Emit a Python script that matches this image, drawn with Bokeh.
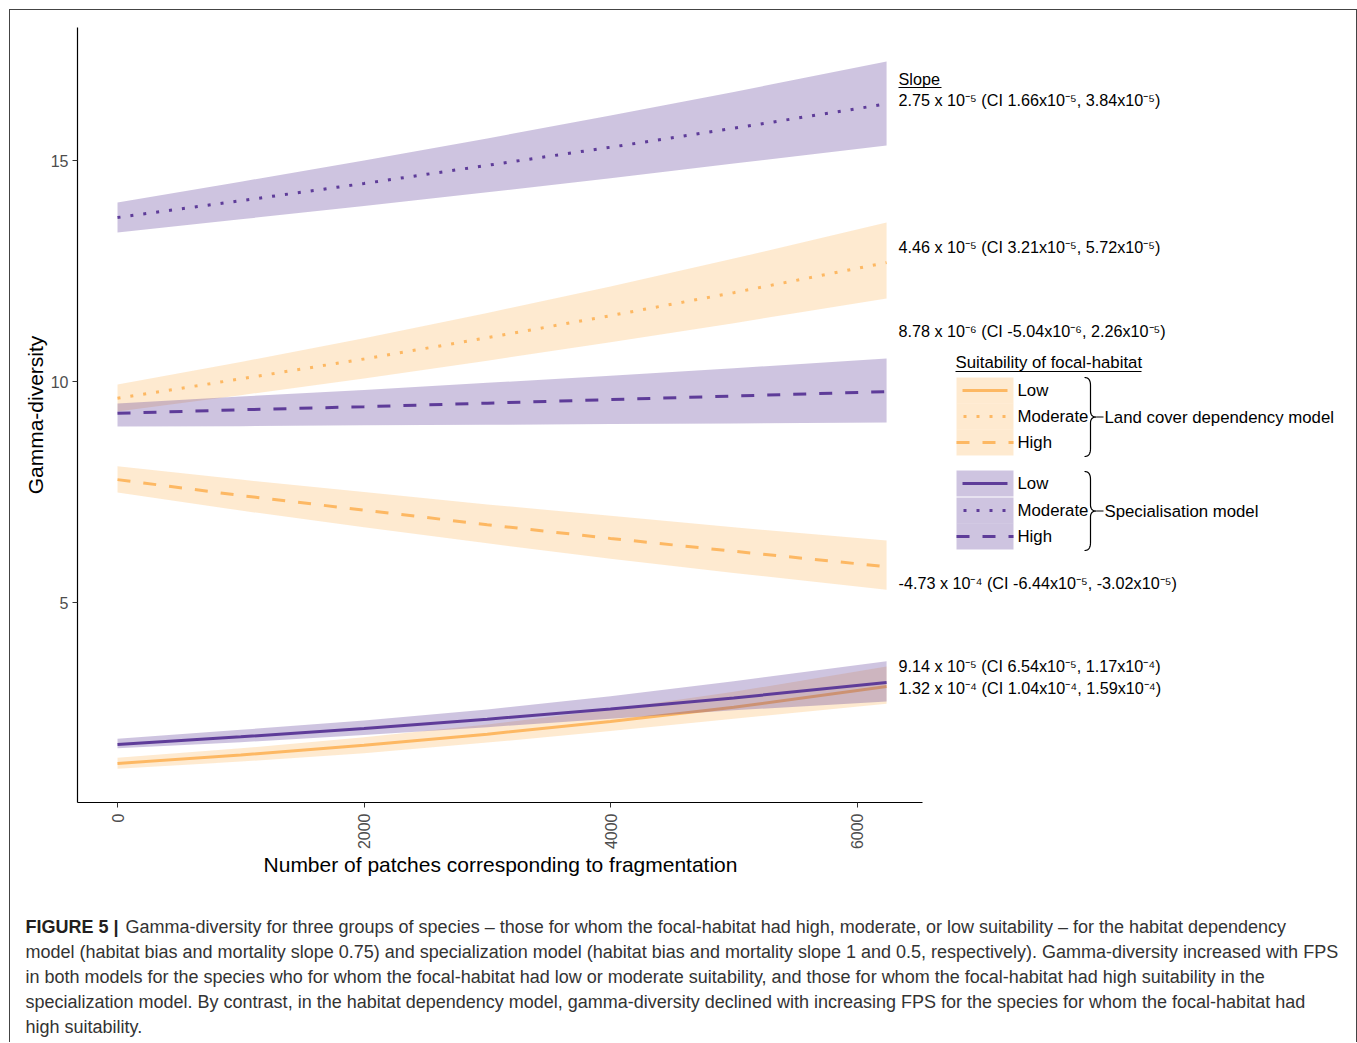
import math
import numpy as np
from bokeh.plotting import figure
from bokeh.models import Range1d, FixedTicker, Label
from bokeh.layouts import column
from bokeh.embed import file_html
from bokeh.resources import INLINE

# ---------------- data ----------------
fps = [0, 1000, 2000, 3000, 4000, 5000, 6240]

lc_low = [1.36, 1.55, 1.77, 2.02, 2.31, 2.63, 3.10]
lc_low_lo = [1.24, 1.40, 1.59, 1.83, 2.09, 2.37, 2.71]
lc_low_hi = [1.49, 1.70, 1.95, 2.24, 2.58, 2.98, 3.55]

lc_mod = [9.62, 10.06, 10.51, 10.99, 11.49, 12.01, 12.69]
lc_mod_lo = [9.32, 9.69, 10.07, 10.47, 10.89, 11.32, 11.88]
lc_mod_hi = [9.93, 10.44, 10.98, 11.55, 12.15, 12.78, 13.60]

lc_high = [7.78, 7.42, 7.09, 6.76, 6.45, 6.16, 5.81]
lc_high_lo = [7.49, 7.08, 6.70, 6.34, 5.99, 5.67, 5.29]
lc_high_hi = [8.08, 7.78, 7.50, 7.22, 6.96, 6.70, 6.40]

sp_low = [1.79, 1.96, 2.15, 2.36, 2.59, 2.84, 3.19]
sp_low_lo = [1.70, 1.84, 2.00, 2.18, 2.37, 2.56, 2.76]
sp_low_hi = [1.92, 2.12, 2.33, 2.58, 2.88, 3.22, 3.67]

sp_mod = [13.71, 14.09, 14.48, 14.89, 15.30, 15.73, 16.28]
sp_mod_lo = [13.37, 13.67, 13.97, 14.28, 14.60, 14.93, 15.34]
sp_mod_hi = [14.05, 14.52, 15.00, 15.50, 16.02, 16.55, 17.24]

sp_high = [9.28, 9.36, 9.43, 9.51, 9.59, 9.67, 9.77]
sp_high_lo = [8.98, 8.99, 9.01, 9.02, 9.04, 9.05, 9.07]
sp_high_hi = [9.50, 9.66, 9.81, 9.97, 10.13, 10.30, 10.52]

x_ticks = [0, 2000, 4000, 6000]
y_ticks = [5, 10, 15]

slope_header = "Slope"
slope_labels = [
    "2.75 x 10\u207b\u2075 (CI 1.66x10\u207b\u2075, 3.84x10\u207b\u2075)",
    "4.46 x 10\u207b\u2075 (CI 3.21x10\u207b\u2075, 5.72x10\u207b\u2075)",
    "8.78 x 10\u207b\u2076 (CI -5.04x10\u207b\u2076, 2.26x10\u207b\u2075)",
    "-4.73 x 10\u207b\u2074 (CI -6.44x10\u207b\u2075, -3.02x10\u207b\u2075)",
    "9.14 x 10\u207b\u2075 (CI 6.54x10\u207b\u2075, 1.17x10\u207b\u2074)",
    "1.32 x 10\u207b\u2074 (CI 1.04x10\u207b\u2074, 1.59x10\u207b\u2074)",
]
legend_title = "Suitability of focal-habitat"
legend_levels = ["Low", "Moderate", "High"]
model_names = ["Land cover dependency model", "Specialisation model"]

x_title = "Number of patches corresponding to fragmentation"
y_title = "Gamma-diversity"
cap_bold = "FIGURE 5 |"
cap_lines = [
    "Gamma-diversity for three groups of species \u2013 those for whom the focal-habitat had high, moderate, or low suitability \u2013 for the habitat dependency",
    "model (habitat bias and mortality slope 0.75) and specialization model (habitat bias and mortality slope 1 and 0.5, respectively). Gamma-diversity increased with FPS",
    "in both models for the species who for whom the focal-habitat had low or moderate suitability, and those for whom the focal-habitat had high suitability in the",
    "specialization model. By contrast, in the habitat dependency model, gamma-diversity declined with increasing FPS for the species for whom the focal-habitat had",
    "high suitability.",
]

# ---------------- style ----------------
ORANGE = "#fdb863"
PURPLE = "#5e3c99"
BAND_ALPHA = 0.3
FONT = "Liberation Sans"
DOT = "3 10"
DASH = "13 13"

W = 1346
H_MAIN = 842
H_CAP = 190
LEFT = 67

# page-pixel -> data helpers (for placing decorations)
def X(px):
    return (px - 117) * 2000.0 / 246.5

def Y(py):
    return (823 - py) / 44.2

p = figure(width=W, height=H_MAIN, output_backend="svg", toolbar_location=None,
           x_range=Range1d(X(77), X(1356)), y_range=Range1d(Y(802), Y(27)),
           min_border_left=LEFT, min_border_right=0, min_border_top=17,
           min_border_bottom=50)
p.frame_align = False
p.outline_line_color = None
p.xgrid.visible = False
p.ygrid.visible = False
p.background_fill_color = "white"
p.border_fill_color = "white"

for ax in (p.xaxis[0], p.yaxis[0]):
    ax.axis_line_color = "black"
    ax.axis_line_width = 1.2
    ax.major_tick_line_color = "#333333"
    ax.major_tick_out = 5
    ax.major_tick_in = 0
    ax.minor_tick_line_color = None
    ax.major_label_text_font = FONT
    ax.major_label_text_font_size = "16px"
    ax.major_label_text_color = "#4d4d4d"
    ax.axis_label_text_font = FONT
    ax.axis_label_text_font_size = "21px"
    ax.axis_label_text_font_style = "normal"
    ax.axis_label_text_color = "black"

p.xaxis.ticker = FixedTicker(ticks=x_ticks)
p.yaxis.ticker = FixedTicker(ticks=y_ticks)
p.xaxis.bounds = (X(77), X(922))
p.xaxis.major_label_orientation = math.pi / 2
p.xaxis.major_label_standoff = 6
p.yaxis.major_label_standoff = 4
p.yaxis.axis_label = y_title
p.yaxis.axis_label_standoff = 1

# ---------------- ribbons and lines ----------------
groups = [
    (ORANGE, [(lc_low, lc_low_lo, lc_low_hi, "solid"),
              (lc_mod, lc_mod_lo, lc_mod_hi, DOT),
              (lc_high, lc_high_lo, lc_high_hi, DASH)]),
    (PURPLE, [(sp_low, sp_low_lo, sp_low_hi, "solid"),
              (sp_mod, sp_mod_lo, sp_mod_hi, DOT),
              (sp_high, sp_high_lo, sp_high_hi, DASH)]),
]
for color, series in groups:
    for mid, lo, hi, dash in series:
        p.varea(x=fps, y1=lo, y2=hi, fill_color=color, fill_alpha=BAND_ALPHA)
    for mid, lo, hi, dash in series:
        p.line(x=fps, y=mid, line_color=color, line_width=3, line_dash=dash,
               line_cap="butt")

# ---------------- slope annotations ----------------
def label(fig, x, y, text, size="16.2px", color="black", align="left",
          style="normal", font=FONT):
    fig.add_layout(Label(x=x, y=y, text=text, text_font=font,
                         text_font_size=size, text_color=color,
                         text_align=align, text_baseline="middle",
                         text_font_style=style))

label(p, X(898), Y(78), slope_header)
p.segment(x0=[X(898)], y0=[Y(87)], x1=[X(941)], y1=[Y(87)], line_color="black",
          line_width=1)
for txt, py in zip(slope_labels, [99, 246, 330, 582, 665, 687]):
    label(p, X(898), Y(py), txt)

# ---------------- custom legend ----------------
LEG = "16.8px"
label(p, X(955), Y(362), legend_title, size=LEG)
p.segment(x0=[X(955)], y0=[Y(371)], x1=[X(1141)], y1=[Y(371)], line_color="black",
          line_width=1)

box_tops = [[377, 403, 429], [470, 497, 523]]
dashes = ["solid", DOT, DASH]
for (color, _), tops in zip(groups, box_tops):
    for top, lvl, dash in zip(tops, legend_levels, dashes):
        p.quad(left=X(956), right=X(1013), top=Y(top), bottom=Y(top + 26),
               fill_color=color, fill_alpha=BAND_ALPHA, line_color=None)
        yc = Y(top + 13)
        if dash == "solid":
            xs = [X(962), X(1007)]
        elif dash == DOT:
            xs = [X(963), X(1010)]
        else:
            xs = [X(956), X(1013)]
        p.line(x=xs, y=[yc, yc], line_color=color, line_width=3,
               line_dash=dash, line_cap="butt")
        label(p, X(1017), yc, lvl, size=LEG)


def brace_pts(x0, ytop, ybot, w):
    ym = (ytop + ybot) / 2.0
    xm = x0 + w / 2.0
    r = 8.0
    def qb(p0, p1, p2, n=12):
        t = np.linspace(0, 1, n)
        bx = (1 - t) ** 2 * p0[0] + 2 * (1 - t) * t * p1[0] + t ** 2 * p2[0]
        by = (1 - t) ** 2 * p0[1] + 2 * (1 - t) * t * p1[1] + t ** 2 * p2[1]
        return list(bx), list(by)
    segs = [
        qb((x0, ytop), (xm, ytop), (xm, ytop + r)),
        ([xm, xm], [ytop + r, ym - 6]),
        qb((xm, ym - 6), (xm, ym), (x0 + w, ym)),
        qb((x0 + w, ym), (xm, ym), (xm, ym + 6)),
        ([xm, xm], [ym + 6, ybot - r]),
        qb((xm, ybot - r), (xm, ybot), (x0, ybot)),
    ]
    xs, ys = [], []
    for sx, sy in segs:
        xs += sx
        ys += sy
    return [X(v) for v in xs], [Y(v) for v in ys]

for (ytop, ybot), name in zip([(377, 456), (471, 550)], model_names):
    bx, by = brace_pts(1084, ytop, ybot, 12)
    p.line(x=bx, y=by, line_color="black", line_width=1.2)
    ym = (ytop + ybot) / 2.0
    p.line(x=[X(1096), X(1103)], y=[Y(ym), Y(ym)], line_color="black", line_width=1)
    label(p, X(1104), Y(ym), name, size=LEG)

# ---------------- caption figure ----------------
c = figure(width=W, height=H_CAP, output_backend="svg", toolbar_location=None,
           x_range=Range1d(10, 10 + W), y_range=Range1d(852 + H_CAP, 852),
           x_axis_type=None, y_axis_type=None,
           min_border_left=0, min_border_right=0, min_border_top=0,
           min_border_bottom=0)
c.frame_align = False
c.outline_line_color = None
c.xgrid.visible = False
c.ygrid.visible = False

label(c, 500, 864, x_title, size="21px", align="center")
label(c, 25, 926, cap_bold, size="18px", color="#231f20", style="bold")
cap_y = [926, 951, 976, 1001, 1026]
cap_x = [125, 25, 25, 25, 25]
for txt, cx, cy in zip(cap_lines, cap_x, cap_y):
    label(c, cx, cy, txt, size="18px", color="#333333")

layout = column(p, c, spacing=0,
                styles={"margin-left": "9px", "margin-top": "9px",
                        "border-left": "1px solid #444", "border-top": "1px solid #444",
                        "border-right": "1px solid #444"})

open("out.html", "w").write(file_html(layout, INLINE))
